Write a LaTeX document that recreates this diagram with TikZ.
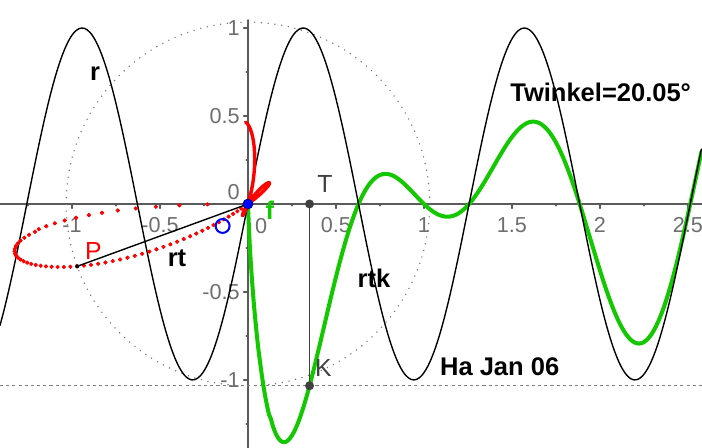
\documentclass[tikz,border=0pt]{standalone}
\usepackage{fontspec}
\setmainfont{Liberation Sans}
\definecolor{axisgray}{RGB}{90,90,90}
\definecolor{labgray}{RGB}{110,110,110}
\definecolor{ptgray}{RGB}{64,64,64}
\definecolor{ggreen}{RGB}{20,200,0}
\tikzset{
  lbl/.style={inner sep=0pt, font=\fontsize{16.5}{18}\selectfont\bfseries},
  ptlbl/.style={inner sep=0pt, font=\fontsize{16}{18}\selectfont},
  ticklbl/.style={inner sep=0pt, text=labgray, font=\fontsize{14}{16}\selectfont},
  dotcircle/.style={black!55, line width=1pt, dash pattern=on 0pt off 4.4pt},
  dotline/.style={black!50, line width=0.7pt, dash pattern=on 2pt off 2pt, line cap=butt},
}
\begin{document}
\begin{tikzpicture}[x=4cm, y=4cm, line join=round, line cap=round]
	\pgfmathsetmacro{\tw}{0.35}
	\pgfmathsetmacro{\kv}{ln(\tw)*sin(5*\tw r)}
	\useasboundingbox (-1.409,-1.386) rectangle (2.580,1.159);
	\clip (-1.409,-1.386) rectangle (2.580,1.159);
	\coordinate (O) at (0,0);
	\coordinate (T) at (\tw,0);
	\coordinate (K) at (\tw,\kv);
	\coordinate (P) at ({\kv*cos(\tw r)},{\kv*sin(\tw r)});
	\coordinate (kl) at (-1.409,\kv);
	\coordinate (kr) at (2.580,\kv);
	% axes
	\draw[axisgray, line width=1pt] (-1.409,0) -- (2.58,0);
	\draw[axisgray, line width=1pt] (0,1.045) -- (0,-1.386);
	\foreach \x in {-1,-0.5,0.5,1,1.5,2,2.5} \draw[axisgray, line width=0.8pt] (\x,0) -- (\x,-0.025);
	\foreach \x in {-1.25,-0.75,-0.25,0.25,0.75,1.25,1.75,2.25} \draw[axisgray, line width=0.8pt] (\x,0) -- (\x,-0.01);
	\foreach \y in {1,0.5,-0.5,-1} \draw[axisgray, line width=0.8pt] (0,\y) -- (-0.025,\y);
	\foreach \y in {0.75,0.25,-0.25,-0.75,-1.25} \draw[axisgray, line width=0.8pt] (0,\y) -- (-0.01,\y);
	\foreach \x [count=\i] in {-1,-0.5,0.5,1,1.5,2,2.5} \node[ticklbl, anchor=base] (xl\i) at (\x,-0.16) {\x};
	\node[ticklbl, anchor=base] (xl0) at (0.075,-0.17) {0};
	\foreach \y [count=\i] in {1,0.5,-0.5,-1} \node[ticklbl, anchor=east] (yl\i) at (-0.045,\y) {\y};
	\node[ticklbl, anchor=east] (yl0) at (-0.045,0.065) {0};
	% circle through P and level of K
	\draw[dotcircle] (O) circle ({-\kv});
	\draw[dotline] (kl) -- (kr);
	% curves
	\draw[ggreen, line width=2.6pt, smooth, samples=260, domain=0.0005:2.58] plot (\x, {ln(\x)*sin(5*\x r)});
	\draw[black, line width=0.9pt, smooth, samples=250, domain=-1.409:2.58] plot (\x, {sin(5*\x r)});
	\draw[red, only marks, mark=*, mark size=1.2pt, samples=62, domain=0.01:0.62] plot ({ln(\x)*sin(5*\x r)*cos(\x r)}, {ln(\x)*sin(5*\x r)*sin(\x r)});
	\draw[red, line width=2.2pt, smooth, samples=120, domain=0.628:1.6] plot ({ln(\x)*sin(5*\x r)*cos(\x r)}, {ln(\x)*sin(5*\x r)*sin(\x r)});
	\draw[black, line width=0.9pt] (P) -- (O);
	\draw[ptgray, line width=0.9pt] (T) -- (K);
	% points
	\fill[black] (P) circle (1.3pt);
	\fill[ptgray] (T) circle (2.9pt);
	\fill[ptgray] (K) circle (2.9pt);
	\draw[blue, line width=1.3pt] (-0.144,-0.125) circle (4.5pt);
	\filldraw[fill=blue, draw=blue!50!black, line width=0.5pt] (O) circle (3.2pt);
	% labels
	\node[lbl] (rlab) at (-0.869,0.739) {r};
	\node[lbl] (rtklab) at (0.716,-0.42) {rtk};
	\node[lbl, anchor=base west] (twlab) at (1.489,0.585) {Twinkel=20.05°};
	\node[lbl, anchor=base west] (halab) at (1.09,-0.972) {Ha Jan 06};
	\node[lbl, anchor=base] (rtlab) at (-0.403,-0.358) {rt};
	\node[ptlbl, red, anchor=base] (plab) at (-0.878,-0.318) {P};
	\node[lbl, ggreen, anchor=base] (flab) at (0.125,-0.09) {f};
	\node[ptlbl, ptgray, anchor=base] (tlab) at (0.4375,0.0625) {T};
	\node[ptlbl, ptgray, anchor=base] (klab) at (0.429,-0.983) {K};
\end{tikzpicture}
\end{document}
